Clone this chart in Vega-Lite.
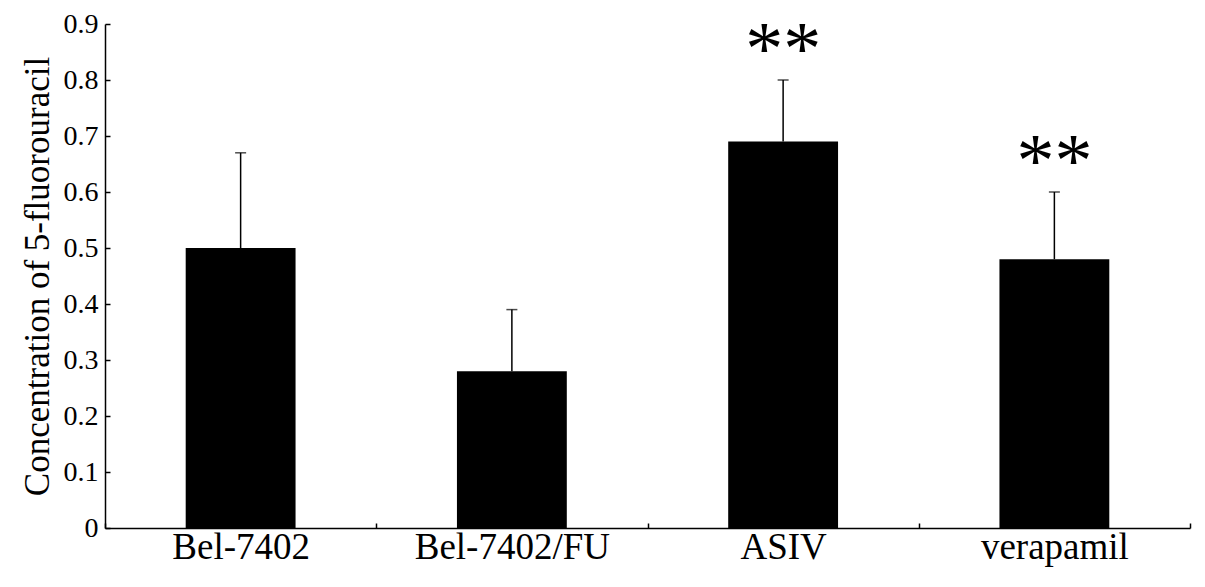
{
  "$schema": "https://vega.github.io/schema/vega-lite/v6.json",
  "width": 1085,
  "height": 504,
  "autosize": {"type": "none"},
  "padding": {"left": 105, "top": 24, "right": 15, "bottom": 59},
  "background": "white",
  "config": {
    "view": {"stroke": null},
    "font": "Liberation Serif",
    "axis": {"domainColor": "black", "tickColor": "black", "labelColor": "black", "titleColor": "black", "domainWidth": 1.5, "tickWidth": 1.5, "grid": false, "labelFont": "Liberation Serif", "titleFont": "Liberation Serif"}
  },
  "data": {
    "values": [
      {"group": "Bel-7402", "mean": 0.50, "upper": 0.67, "sig": ""},
      {"group": "Bel-7402/FU", "mean": 0.28, "upper": 0.39, "sig": ""},
      {"group": "ASIV", "mean": 0.69, "upper": 0.80, "sig": "**"},
      {"group": "verapamil", "mean": 0.48, "upper": 0.60, "sig": "**"}
    ]
  },
  "encoding": {
    "x": {
      "field": "group", "type": "nominal", "sort": null,
      "scale": {"paddingInner": 0, "paddingOuter": 0},
      "axis": {"title": null, "labelAngle": 0, "labelFontSize": 37, "labelLimit": 0, "labelFont": "Liberation Serif", "tickBand": "extent", "tickSize": -5, "labelPadding": 35, "labelBaseline": "alphabetic"}
    }
  },
  "layer": [
    {
      "mark": {"type": "bar", "color": "black", "width": {"band": 0.405}},
      "encoding": {
        "y": {"field": "mean", "type": "quantitative",
          "scale": {"domain": [0, 0.9]},
          "axis": {"title": "Concentration of 5-fluorouracil", "titleFontSize": 35, "titleFontWeight": "normal", "titleFont": "Liberation Serif", "titlePadding": 8, "values": [0, 0.1, 0.2, 0.3, 0.4, 0.5, 0.6, 0.7, 0.8, 0.9], "labelFontSize": 28, "labelFont": "Liberation Serif", "tickSize": -5, "labelPadding": 12, "format": "~g"}
        }
      }
    },
    {
      "mark": {"type": "rule", "color": "black", "strokeWidth": 1.5},
      "encoding": {"y": {"field": "mean", "type": "quantitative"}, "y2": {"field": "upper"}}
    },
    {
      "mark": {"type": "tick", "color": "black", "size": 11, "thickness": 1.5, "orient": "horizontal"},
      "encoding": {"y": {"field": "upper", "type": "quantitative"}}
    },
    {
      "mark": {"type": "text", "fontSize": 76, "font": "Liberation Serif", "baseline": "alphabetic", "dy": -6, "color": "black"},
      "encoding": {"y": {"field": "upper", "type": "quantitative"}, "text": {"field": "sig"}}
    }
  ]
}
